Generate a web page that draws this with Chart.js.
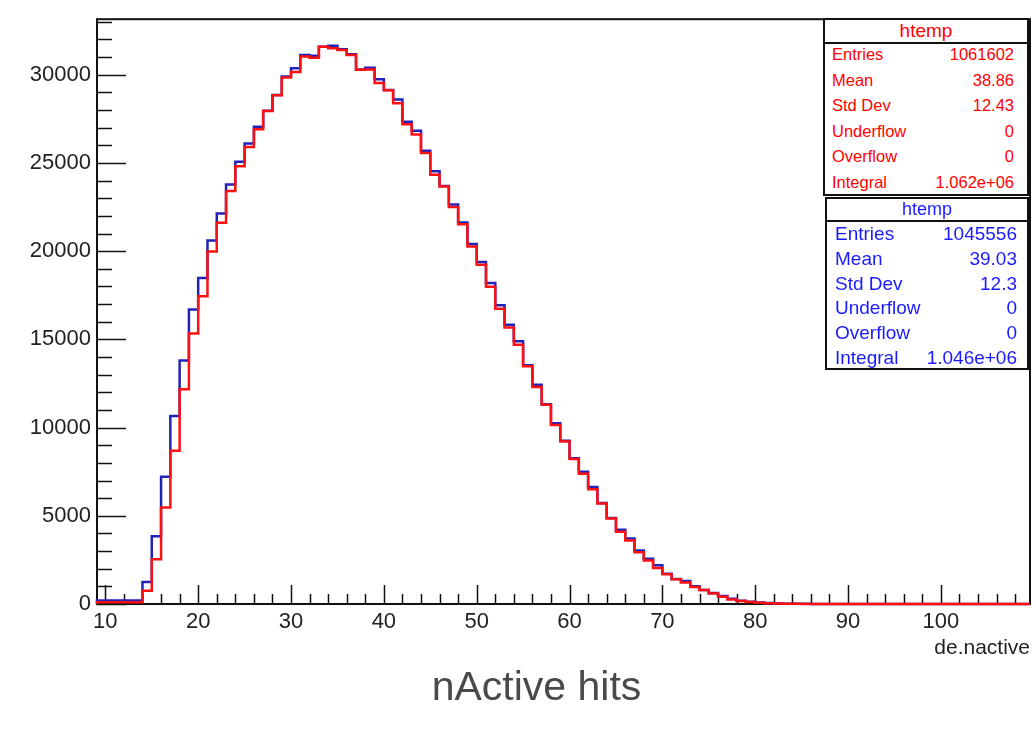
<!DOCTYPE html>
<html>
<head>
<meta charset="utf-8">
<title>nActive hits</title>
<script src="https://cdn.jsdelivr.net/npm/chart.js@4.4.1/dist/chart.umd.min.js"></script>
<style>
    html, body { margin: 0; padding: 0; background: #fff; }
    #wrap { position: relative; width: 1033px; height: 730px; overflow: hidden; font-family: 'Liberation Sans', Arial, sans-serif; }
    #chart { position: absolute; left: 0; top: 0; }
    .stats { position: absolute; background: #fff; border: 2px solid #111; box-sizing: border-box; }
    .stats .head { position: absolute; left: 0; right: 0; top: 0; text-align: center; border-bottom: 2px solid #111; box-sizing: border-box; }
    .stats .row { position: absolute; left: 0; right: 0; }
    .stats .row span { position: absolute; top: 0; white-space: nowrap; }
    #caption { position: absolute; left: 0; width: 1073px; top: 662px; text-align: center; font-size: 41px; color: #4a4a4a; line-height: 48px; }
</style>
</head>
<body>
<div id="wrap">
    <canvas id="chart" width="1033" height="665"></canvas>
    <div id="redBox" class="stats"></div>
    <div id="blueBox" class="stats"></div>
    <div id="caption">nActive hits</div>
</div>
<script>
// histogram contents, one value per bin of width 1, first bin starts at 14
const firstBin = 14;
const blueCounts = [
    200, 1250, 3840, 7210, 10660, 13800, 16700, 18480,
    20600, 22130, 23780, 25070, 26100, 27060, 27960, 28850, 29900, 30370,
    31120, 31080, 31590, 31640, 31440, 31160, 30300, 30400, 29750, 29140,
    28600, 27330, 26820, 25690, 24530, 23700, 22640, 21630, 20400, 19380,
    18200, 16930, 15830, 14890, 13540, 12430, 11330, 10240, 9250, 8260,
    7490, 6630, 5720, 4880, 4210, 3720, 3030, 2570, 2190, 1720,
    1420, 1310, 1000, 800, 620, 450, 300, 190, 130, 80,
    50, 30, 20, 12, 8, 4
];
const redCounts = [
    100, 750, 2530, 5470, 8690, 12170, 15340, 17450,
    19980, 21610, 23410, 24810, 25910, 26910, 27940, 28840, 29850, 30150,
    31030, 30970, 31590, 31500, 31400, 31120, 30280, 30300, 29530, 29120,
    28390, 27190, 26610, 25560, 24330, 23670, 22510, 21530, 20260, 19230,
    17980, 16740, 15670, 14700, 13480, 12300, 11290, 10150, 9210, 8220,
    7380, 6500, 5690, 4850, 4100, 3600, 2940, 2470, 2040, 1680,
    1400, 1220, 970, 790, 600, 410, 260, 170, 110, 70,
    45, 25, 15, 10, 6, 3
];

const xTickValues = [10, 20, 30, 40, 50, 60, 70, 80, 90, 100];
const yTickValues = [0, 5000, 10000, 15000, 20000, 25000, 30000];

const xMin = 9.1, xMax = 109.6;
const yMax = 33150;

const statLabels = ['Entries', 'Mean', 'Std Dev', 'Underflow', 'Overflow', 'Integral'];
const redStats = ['1061602', '38.86', '12.43', '0', '0', '1.062e+06'];
const blueStats = ['1045556', '39.03', '12.3', '0', '0', '1.046e+06'];

const FONT = "'Liberation Sans', Arial, sans-serif";

function histPoints(counts) {
    // outline from the left edge of the frame to the right one
    let pts = [{ x: xMin, y: 0 }];
    counts.forEach((c, i) => pts.push({ x: firstBin + i, y: c }));
    pts.push({ x: firstBin + counts.length, y: 0 });
    pts.push({ x: xMax, y: 0 });
    return pts;
}

// ROOT style frame and inward ticks
const frameTicks = {
    id: 'frameTicks',
    beforeDatasetsDraw(chart) {
        const { ctx, chartArea: a, scales } = chart;
        const x = scales.x, y = scales.y;
        ctx.save();
        ctx.strokeStyle = '#111';
        ctx.lineWidth = 1.5;
        ctx.beginPath();
        for (let v = 0; v <= yMax; v += 1000) {
            const py = Math.round(y.getPixelForValue(v)) + 0.5;
            const len = v % 5000 === 0 ? 29 : 15;
            ctx.moveTo(a.left, py);
            ctx.lineTo(a.left + len, py);
        }
        for (let v = 10; v <= xMax; v += 2) {
            const px = Math.round(x.getPixelForValue(v)) + 0.5;
            const len = v % 10 === 0 ? 19 : 10;
            ctx.moveTo(px, a.bottom);
            ctx.lineTo(px, a.bottom - len);
        }
        ctx.stroke();
        ctx.lineWidth = 2;
        ctx.strokeRect(a.left, a.top, a.right - a.left, a.bottom - a.top);
        ctx.restore();
    }
};

new Chart(document.getElementById('chart'), {
    type: 'line',
    data: {
        datasets: [
            {
                label: 'htemp',
                data: histPoints(redCounts),
                borderColor: '#ff1010',
                borderWidth: 2.5,
                stepped: 'after',
                pointRadius: 0,
                fill: false,
                clip: 4,
                order: 0
            },
            {
                label: 'htemp',
                data: histPoints(blueCounts),
                borderColor: '#2222b8',
                borderWidth: 2.5,
                stepped: 'after',
                pointRadius: 0,
                fill: false,
                clip: 4,
                order: 1
            }
        ]
    },
    options: {
        responsive: false,
        animation: false,
        devicePixelRatio: 1,
        layout: { padding: { top: 14, right: 3, left: 0, bottom: 0 } },
        plugins: { legend: { display: false }, tooltip: { enabled: false } },
        scales: {
            x: {
                type: 'linear',
                min: xMin,
                max: xMax,
                grid: { display: false, drawTicks: false },
                border: { display: false },
                afterBuildTicks: s => { s.ticks = xTickValues.map(v => ({ value: v })); },
                ticks: {
                    maxRotation: 0,
                    autoSkip: false,
                    padding: 5,
                    color: '#222',
                    font: { family: FONT, size: 22 },
                    callback: v => String(v)
                },
                title: {
                    display: true,
                    text: 'de.nactive',
                    align: 'end',
                    color: '#222',
                    font: { family: FONT, size: 21 },
                    padding: { top: 0, bottom: 4 }
                },
                afterFit: s => { s.height = 61; }
            },
            y: {
                min: 0,
                max: yMax,
                grid: { display: false, drawTicks: false },
                border: { display: false },
                afterBuildTicks: s => { s.ticks = yTickValues.map(v => ({ value: v })); },
                ticks: {
                    autoSkip: false,
                    padding: 6,
                    color: '#222',
                    font: { family: FONT, size: 22 },
                    callback: v => String(v)
                },
                afterFit: s => { s.width = 97; }
            }
        }
    },
    plugins: [frameTicks]
});

function buildStats(id, box, color, values) {
    const el = document.getElementById(id);
    el.style.left = box.left + 'px';
    el.style.top = box.top + 'px';
    el.style.width = box.width + 'px';
    el.style.height = box.height + 'px';
    if (box.rightBorder) el.style.borderRight = box.rightBorder + 'px solid #111';
    el.style.color = color;
    const head = document.createElement('div');
    head.className = 'head';
    head.textContent = 'htemp';
    head.style.height = box.head + 'px';
    head.style.lineHeight = (box.head - 2) + 'px';
    head.style.fontSize = box.headFont + 'px';
    el.appendChild(head);
    statLabels.forEach((lab, i) => {
        const row = document.createElement('div');
        row.className = 'row';
        row.style.top = (box.head + i * box.rowH - box.nudge) + 'px';
        row.style.height = box.rowH + 'px';
        row.style.lineHeight = box.rowH + 'px';
        row.style.fontSize = box.font + 'px';
        const l = document.createElement('span');
        l.textContent = lab;
        l.style.left = box.padL + 'px';
        const r = document.createElement('span');
        r.textContent = values[i];
        r.style.right = box.padR + 'px';
        row.appendChild(l);
        row.appendChild(r);
        el.appendChild(row);
    });
}

buildStats('redBox', { left: 823, top: 18, width: 206, height: 178, head: 24, rowH: 25.6, nudge: 2, font: 16.5, headFont: 19, padL: 7, padR: 13 }, '#ff0000', redStats);
buildStats('blueBox', { left: 825, top: 197, width: 206, height: 173, head: 23, rowH: 24.8, nudge: 0, font: 19, headFont: 18, padL: 8, padR: 10, rightBorder: 4 }, '#1a1aff', blueStats);
</script>
</body>
</html>
